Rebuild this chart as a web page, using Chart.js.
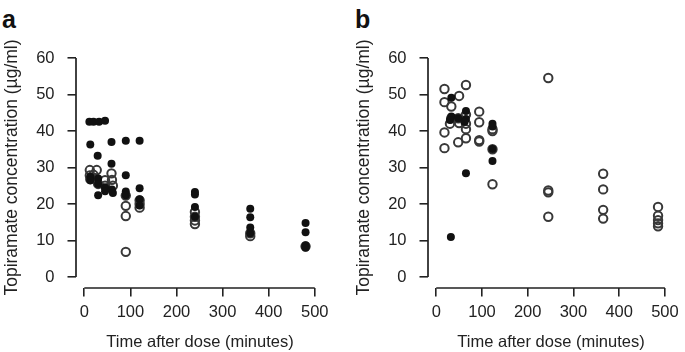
<!DOCTYPE html>
<html>
<head>
<meta charset="utf-8">
<script src="https://cdn.jsdelivr.net/npm/chart.js@4/dist/chart.umd.min.js"></script>
<style>
  body { margin: 0; background: #fff; width: 685px; height: 352px; position: relative; overflow: hidden; }
  .panel { position: absolute; top: 0; }
  .tag { position: absolute; top: 7px; font: bold 25px "Liberation Sans", Arial, sans-serif; line-height: 25px; color: #111; }
</style>
</head>
<body>
<div class="tag" style="left:2px">a</div>
<div class="tag" style="left:355px">b</div>
<canvas id="chartA" class="panel" style="left:0" width="342" height="352"></canvas>
<canvas id="chartB" class="panel" style="left:352px" width="333" height="352"></canvas>
<script>
// axis ticks
const xTicks = [0, 100, 200, 300, 400, 500];
const yTicks = [0, 10, 20, 30, 40, 50, 60];

// Panel a - filled dots
const aFilledTime = [11, 20, 32, 45, 13, 13, 13, 29, 30, 30, 30, 45, 45, 59, 59, 60, 62,
  90, 90, 90, 90, 120, 120, 120, 120, 240, 240, 240, 240, 360, 360, 360, 360, 480, 480, 480, 480, 480];
const aFilledConc = [42.5, 42.5, 42.5, 42.8, 36.3, 27.5, 26.5, 33.2, 22.4, 27, 25.5, 24.5, 23.5, 37, 31, 24, 23,
  37.3, 27.9, 23.4, 22.4, 37.3, 24.3, 21.3, 19.6, 23.3, 22.6, 19.2, 16.5, 18.7, 16.4, 13.6, 12, 14.8, 12.3, 8.2, 8.7, 8];

// Panel a - open circles
const aOpenTime = [12, 27, 12, 20, 13, 27, 30, 45, 45, 59, 60, 62,
  90, 90, 90, 90, 120, 120, 120, 240, 240, 240, 240, 360, 360, 480];
const aOpenConc = [29.3, 29.3, 27.8, 28, 26.8, 26.5, 25.5, 25, 26.5, 28.4, 26.6, 25,
  22.3, 19.5, 16.7, 6.9, 21, 20, 19, 17.8, 16.5, 15.5, 14.5, 12, 11.2, 8.4];

// Panel b - filled dots
const bFilledTime = [33, 33, 30, 48, 65, 65, 62, 65, 32, 123, 123, 123, 123];
const bFilledConc = [49.1, 44, 43, 43.5, 45.5, 43.3, 42.5, 28.4, 11, 42, 41.2, 35.1, 31.8];

// Panel b - open circles
const bOpenTime = [18, 18, 18, 18, 33, 33, 30, 50, 48, 50, 48, 65, 65, 65, 65, 65,
  94, 94, 94, 94, 123, 123, 123, 123, 245, 245, 245, 245, 365, 365, 365, 365, 485, 485, 485, 485, 485];
const bOpenConc = [51.5, 47.9, 39.6, 35.3, 46.7, 43.5, 42, 49.6, 43.5, 42.2, 36.9, 52.6, 44.5, 42, 40.5, 38,
  45.3, 42.4, 37.5, 37.1, 40.5, 40, 35, 25.4, 54.5, 23.7, 23.2, 16.5, 28.3, 24, 18.4, 16, 19.2, 16.8, 15.6, 14.7, 13.9];

const ink = '#222';
const fontFamily = '"Liberation Sans", Arial, sans-serif';

function pts(xs, ys) {
  return xs.map((x, i) => ({ x: x, y: ys[i] }));
}

// R style axes: line only from first to last tick
const rAxes = {
  id: 'rAxes',
  afterDraw(chart) {
    const { ctx, chartArea, scales: { x, y } } = chart;
    ctx.save();
    ctx.strokeStyle = ink;
    ctx.lineWidth = 1.7;
    ctx.beginPath();
    ctx.moveTo(x.getPixelForValue(xTicks[0]), chartArea.bottom);
    ctx.lineTo(x.getPixelForValue(xTicks[xTicks.length - 1]), chartArea.bottom);
    ctx.moveTo(chartArea.left, y.getPixelForValue(yTicks[0]));
    ctx.lineTo(chartArea.left, y.getPixelForValue(yTicks[yTicks.length - 1]));
    ctx.stroke();
    ctx.restore();
  }
};

function makeChart(id, filledX, filledY, openX, openY, canvasW) {
  new Chart(document.getElementById(id), {
    type: 'scatter',
    data: {
      datasets: [
        {
          data: pts(filledX, filledY),
          pointRadius: 4,
          borderWidth: 0,
          backgroundColor: '#111',
          pointHoverRadius: 4
        },
        {
          data: pts(openX, openY),
          pointRadius: 4.2,
          borderWidth: 2,
          borderColor: '#383838',
          backgroundColor: 'rgba(0,0,0,0)',
          pointHoverRadius: 4.2
        }
      ]
    },
    options: {
      responsive: false,
      animation: false,
      events: [],
      layout: { padding: { top: 47, left: 0, bottom: 0, right: canvasW - 324 } },
      plugins: { legend: { display: false }, tooltip: { enabled: false } },
      scales: {
        x: {
          type: 'linear',
          min: -18,
          max: 520,
          afterBuildTicks: (scale) => { scale.ticks = xTicks.map(v => ({ value: v })); },
          afterFit: (scale) => { scale.height = 64; },
          grid: { drawOnChartArea: false, drawTicks: true, tickLength: 8.5, color: ink, lineWidth: 1.6 },
          border: { display: false },
          ticks: { color: ink, font: { size: 16.5, family: fontFamily }, padding: 6, maxRotation: 0, autoSkip: false },
          title: { display: true, text: 'Time after dose (minutes)', color: ink,
            font: { size: 16.5, family: fontFamily }, padding: { top: 0, bottom: 0 } }
        },
        y: {
          type: 'linear',
          min: -3,
          max: 63,
          afterBuildTicks: (scale) => { scale.ticks = yTicks.map(v => ({ value: v })); },
          afterFit: (scale) => { scale.width = 76; },
          grid: { drawOnChartArea: false, drawTicks: true, tickLength: 8.5, color: ink, lineWidth: 1.6 },
          border: { display: false },
          ticks: { color: ink, font: { size: 16.5, family: fontFamily }, padding: 13, autoSkip: false },
          title: { display: true, text: 'Topiramate concentration (µg/ml)', color: ink,
            font: { size: 17.5, family: fontFamily }, padding: { top: 1.5, bottom: 0 } }
        }
      }
    },
    plugins: [rAxes]
  });
}

makeChart('chartA', aFilledTime, aFilledConc, aOpenTime, aOpenConc, 342);
makeChart('chartB', bFilledTime, bFilledConc, bOpenTime, bOpenConc, 333);
</script>
</body>
</html>
